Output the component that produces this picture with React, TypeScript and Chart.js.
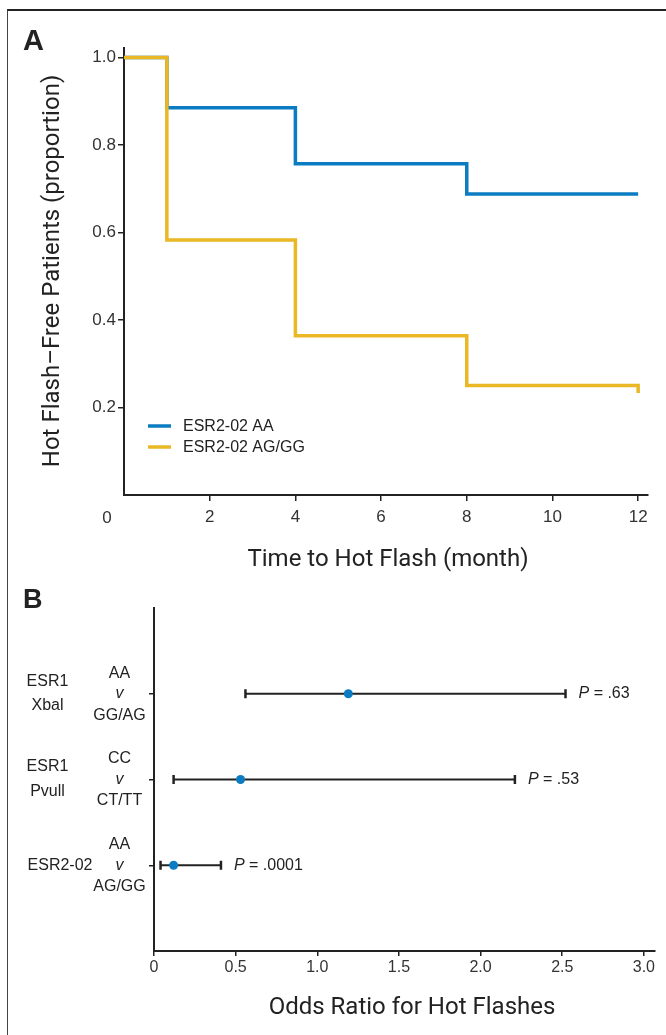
import React, { useEffect, useRef } from "react";
import { Chart, registerables } from "chart.js";

Chart.register(...registerables);

// ---------- Panel A data ----------
const monthsAA = [0, 1, 4, 8, 12];
const survivalAA = [1.0, 0.885, 0.757, 0.688, 0.688];
const monthsAGGG = [0, 1, 4, 8, 12, 12];
const survivalAGGG = [1.0, 0.583, 0.364, 0.25, 0.25, 0.233];
const seriesLabels = ["ESR2-02 AA", "ESR2-02 AG/GG"];
const xTicksA = [2, 4, 6, 8, 10, 12];
const yTicksA = [0.2, 0.4, 0.6, 0.8, 1.0];
const xTitleA = "Time to Hot Flash (month)";
const yTitleA = "Hot Flash\u2013Free Patients (proportion)";

// ---------- Panel B data ----------
const genes = [["ESR1", "Xbal"], ["ESR1", "Pvull"], ["ESR2-02"]];
const comparisons = [["AA", "v", "GG/AG"], ["CC", "v", "CT/TT"], ["AA", "v", "AG/GG"]];
const oddsRatios = [1.19, 0.53, 0.12];
const ciLow = [0.56, 0.12, 0.04];
const ciHigh = [2.52, 2.21, 0.41];
const pValues = [".63", ".53", ".0001"];
const xTicksB = [0, 0.5, 1.0, 1.5, 2.0, 2.5, 3.0];
const xTitleB = "Odds Ratio for Hot Flashes";
const panelLetters = ["A", "B"];

const BLUE = "#0b7cc1";
const YELLOW = "#e9b824";
const INK = "#222";
const SANS = '"Liberation Sans", Arial, Helvetica, sans-serif';
const TITLE = 'Roboto, "Noto Sans", sans-serif';

const annotA = {
  id: "annotA",
  afterDraw(chart: any) {
    const ctx = chart.ctx;
    ctx.save();
    ctx.fillStyle = INK;
    ctx.font = `bold 29px ${SANS}`;
    ctx.textAlign = "left";
    ctx.textBaseline = "alphabetic";
    ctx.fillText(panelLetters[0], 23, 50);

    // x title
    ctx.font = `24px ${TITLE}`;
    ctx.textAlign = "center";
    ctx.fillText(xTitleA, 388, 566);

    // y title
    ctx.save();
    ctx.translate(59, 271);
    ctx.rotate(-Math.PI / 2);
    ctx.fillText(yTitleA, 0, 0);
    ctx.restore();

    // origin label
    ctx.fillStyle = "#333";
    ctx.font = `17px ${SANS}`;
    ctx.textBaseline = "middle";
    ctx.fillText("0", 107, 518);

    // legend
    ctx.textAlign = "left";
    ctx.font = `16px ${SANS}`;
    chart.data.datasets.forEach((ds: any, i: number) => {
      const y = 426 + i * 21;
      ctx.strokeStyle = ds.borderColor;
      ctx.lineWidth = 3.5;
      ctx.beginPath();
      ctx.moveTo(148, y);
      ctx.lineTo(171, y);
      ctx.stroke();
      ctx.fillStyle = INK;
      ctx.fillText(ds.label, 183, y + 1);
    });
    ctx.restore();
  },
};

const annotB = {
  id: "annotB",
  afterDraw(chart: any) {
    const ctx = chart.ctx;
    const xs = chart.scales.x;
    const ys = chart.scales.y;
    ctx.save();
    ctx.fillStyle = INK;
    ctx.font = `bold 27px ${SANS}`;
    ctx.textAlign = "left";
    ctx.textBaseline = "alphabetic";
    ctx.fillText(panelLetters[1], 23, 33);

    ctx.font = `24px ${TITLE}`;
    ctx.textAlign = "center";
    ctx.fillText(xTitleB, 412, 439);

    ctx.textBaseline = "middle";
    genes.forEach((lines, i) => {
      const yc = ys.getPixelForValue(i + 1);
      ctx.font = `16px ${SANS}`;
      ctx.textAlign = "center";
      const cx = lines.length > 1 ? 47.5 : 60;
      lines.forEach((t, j) => {
        const off = lines.length > 1 ? (j === 0 ? -12.5 : 12) : 0;
        ctx.fillText(t, cx, yc + off);
      });
      const offs = [-20.5, 0, 21.5];
      comparisons[i].forEach((t, j) => {
        ctx.font = j === 1 ? `italic 16px ${SANS}` : `16px ${SANS}`;
        ctx.fillText(t, 119.5, yc + offs[j]);
      });
      // P value
      let x = xs.getPixelForValue(ciHigh[i]) + 13;
      ctx.textAlign = "left";
      ctx.font = `italic 16px ${SANS}`;
      ctx.fillText("P", x, yc);
      x += ctx.measureText("P").width;
      ctx.font = `16px ${SANS}`;
      ctx.fillText(" = " + pValues[i], x, yc);
    });
    ctx.restore();
  },
};

export default function App() {
  const refA = useRef<HTMLCanvasElement>(null);
  const refB = useRef<HTMLCanvasElement>(null);

  useEffect(() => {
    const chartA = new Chart(refA.current as HTMLCanvasElement, {
      type: "line",
      data: {
        datasets: [
          {
            label: seriesLabels[0],
            data: monthsAA.map((m, i) => ({ x: m, y: survivalAA[i] })),
            borderColor: BLUE,
            borderWidth: 3.5,
            stepped: true,
            pointRadius: 0,
            fill: false,
            order: 1,
          },
          {
            label: seriesLabels[1],
            data: monthsAGGG.map((m, i) => ({ x: m, y: survivalAGGG[i] })),
            borderColor: YELLOW,
            borderWidth: 3.5,
            stepped: true,
            pointRadius: 0,
            fill: false,
            order: 0,
          },
        ],
      },
      options: {
        animation: false,
        responsive: false,
        maintainAspectRatio: false,
        layout: { padding: { top: 48, right: 18, left: 0, bottom: 0 } },
        plugins: { legend: { display: false }, tooltip: { enabled: false } },
        scales: {
          x: {
            type: "linear",
            min: 0,
            max: 12.23,
            afterFit: (s: any) => {
              s.height = 90;
            },
            afterBuildTicks: (s: any) => {
              s.ticks = xTicksA.map((v) => ({ value: v }));
            },
            grid: { display: true, drawOnChartArea: false, drawTicks: true, tickLength: 6, color: INK, lineWidth: 1.5 },
            border: { display: true, color: INK, width: 2 },
            ticks: { font: { family: SANS, size: 17 }, color: "#333", padding: 6, maxRotation: 0, autoSkip: false },
          },
          y: {
            type: "linear",
            min: 0,
            max: 1.0217,
            afterFit: (s: any) => {
              s.width = 124;
            },
            afterBuildTicks: (s: any) => {
              s.ticks = yTicksA.map((v) => ({ value: v }));
            },
            grid: { display: true, drawOnChartArea: false, drawTicks: true, tickLength: 6, color: INK, lineWidth: 1.5 },
            border: { display: true, color: INK, width: 2 },
            ticks: {
              font: { family: SANS, size: 17 },
              color: "#333",
              padding: 2,
              callback: (v: any) => Number(v).toFixed(1),
            },
          },
        },
      },
      plugins: [annotA],
    } as any);

    const barSets = oddsRatios.map((_, i) => ({
      label: "CI " + (i + 1),
      data: [
        { x: ciLow[i], y: i + 1 },
        { x: ciHigh[i], y: i + 1 },
      ],
      showLine: true,
      borderColor: INK,
      borderWidth: 2,
      pointStyle: "line",
      pointRotation: 90,
      pointRadius: 4.5,
      pointBorderWidth: 2.5,
      pointBorderColor: INK,
      pointBackgroundColor: INK,
      order: 1,
    }));

    const chartB = new Chart(refB.current as HTMLCanvasElement, {
      type: "line",
      data: {
        datasets: [
          {
            label: "Odds ratio",
            data: oddsRatios.map((v, i) => ({ x: v, y: i + 1 })),
            showLine: false,
            pointStyle: "circle",
            pointRadius: 4.5,
            pointBackgroundColor: BLUE,
            pointBorderColor: BLUE,
            pointBorderWidth: 0,
            order: 0,
          },
          ...barSets,
        ],
      },
      options: {
        animation: false,
        responsive: false,
        maintainAspectRatio: false,
        layout: { padding: { top: 33, right: 11, left: 0, bottom: 0 } },
        plugins: { legend: { display: false }, tooltip: { enabled: false } },
        scales: {
          x: {
            type: "linear",
            min: 0,
            max: 3.068,
            afterFit: (s: any) => {
              s.height = 84;
            },
            afterBuildTicks: (s: any) => {
              s.ticks = xTicksB.map((v) => ({ value: v }));
            },
            grid: { display: true, drawOnChartArea: false, drawTicks: true, tickLength: 5, color: INK, lineWidth: 1.5 },
            border: { display: true, color: INK, width: 2 },
            ticks: {
              font: { family: SANS, size: 16 },
              color: "#333",
              padding: 2,
              maxRotation: 0,
              autoSkip: false,
              callback: (v: any) => (Number(v) === 0 ? "0" : Number(v).toFixed(1)),
            },
          },
          y: {
            type: "linear",
            min: 0,
            max: 4,
            reverse: true,
            afterFit: (s: any) => {
              s.width = 154;
            },
            afterBuildTicks: (s: any) => {
              s.ticks = [1, 2, 3].map((v) => ({ value: v }));
            },
            grid: { display: true, drawOnChartArea: false, drawTicks: true, tickLength: 5, color: INK, lineWidth: 1.5 },
            border: { display: true, color: INK, width: 2 },
            ticks: { display: false },
          },
        },
      },
      plugins: [annotB],
    } as any);

    return () => {
      chartA.destroy();
      chartB.destroy();
    };
  }, []);

  return (
    <div
      style={{
        position: "absolute",
        left: 0,
        top: 0,
        width: 666,
        height: 1035,
        overflow: "hidden",
        background: "#fff",
      }}
    >
      <div
        style={{
          position: "absolute",
          left: 7,
          top: 9,
          width: 800,
          height: 1200,
          borderLeft: "1.5px solid #444",
          borderTop: "2px solid #222",
        }}
      />
      <canvas ref={refA} width={666} height={585} style={{ position: "absolute", left: 0, top: 0 }} />
      <canvas ref={refB} width={666} height={460} style={{ position: "absolute", left: 0, top: 575 }} />
    </div>
  );
}
